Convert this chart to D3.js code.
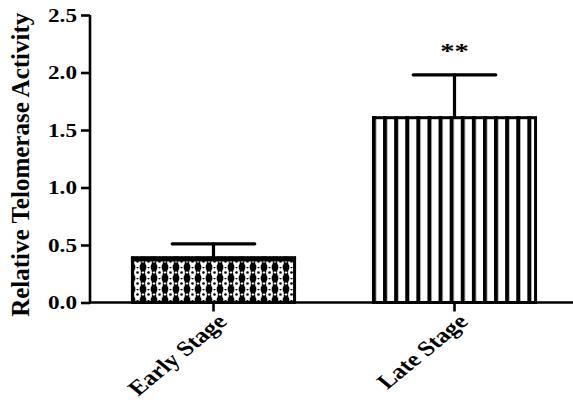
<!DOCTYPE html>
<html>
<head>
<meta charset="utf-8">
<script src="https://cdn.jsdelivr.net/npm/d3@7"></script>
<style>
  html, body { margin: 0; padding: 0; background: #fff; }
  svg { display: block; }
  text { font-family: "Liberation Serif", "Times New Roman", serif; font-weight: bold; fill: #000; }
</style>
</head>
<body>
<svg id="chart" width="573" height="403"></svg>
<script>
// Telomerase activity by tumour stage (mean and upper error)
const categories = ["Early Stage", "Late Stage"];
const means = [0.40, 1.62];
const errors = [0.11, 0.36];
const significance = ["", "**"];
const yTicks = [0.0, 0.5, 1.0, 1.5, 2.0, 2.5];
const yLabel = "Relative Telomerase Activity";

const svg = d3.select("#chart");
const W = 573, H = 403;
const axisX = 90, axisY = 302.5, topY = 15;
const wide = 1.22; // horizontal widening of the label glyphs

const x = d3.scaleBand()
  .domain(categories)
  .range([93, 575])
  .paddingInner(0.315)
  .paddingOuter(0.1575);

const y = d3.scaleLinear().domain([0, 2.5]).range([axisY, topY]);

// Fill patterns for the two bars
const defs = svg.append("defs");

// Dotted lattice for the first bar
const p1 = defs.append("pattern")
  .attr("id", "lattice")
  .attr("patternUnits", "userSpaceOnUse")
  .attr("width", 11).attr("height", 11)
  .attr("x", 0).attr("y", 3);
p1.append("rect").attr("width", 11).attr("height", 11).attr("fill", "#000");
p1.append("ellipse").attr("cx", 5.5).attr("cy", 5.5).attr("rx", 3.4).attr("ry", 4.6).attr("fill", "#fff");
p1.append("rect").attr("x", 3.3).attr("y", 0).attr("width", 4.4).attr("height", 11).attr("fill", "#fff");
p1.append("circle").attr("cx", 5.5).attr("cy", 5.5).attr("r", 1.3).attr("fill", "#000");
p1.append("circle").attr("cx", 5.5).attr("cy", 0.3).attr("r", 1.1).attr("fill", "#000");
p1.append("circle").attr("cx", 0.3).attr("cy", 5.5).attr("r", 1.1).attr("fill", "#fff");
p1.append("circle").attr("cx", 10.7).attr("cy", 5.5).attr("r", 1.1).attr("fill", "#fff");

// Vertical stripes for the second bar
const p2 = defs.append("pattern")
  .attr("id", "stripes")
  .attr("patternUnits", "userSpaceOnUse")
  .attr("width", 11.1).attr("height", 10)
  .attr("x", x("Late Stage")).attr("y", 0);
p2.append("rect").attr("width", 11.1).attr("height", 10).attr("fill", "#fff");
p2.append("rect").attr("x", 0).attr("width", 4).attr("height", 10).attr("fill", "#000");

const patterns = ["url(#lattice)", "url(#stripes)"];

// Bars
const bars = svg.append("g");
categories.forEach((c, i) => {
  const bx = x(c), bw = x.bandwidth();
  const top = y(means[i]);
  bars.append("rect")
    .attr("x", bx).attr("y", top)
    .attr("width", bw).attr("height", axisY - top)
    .attr("fill", patterns[i]);
  // outline
  bars.append("rect")
    .attr("x", bx + 1.5).attr("y", top + 1.5)
    .attr("width", bw - 3).attr("height", axisY - top - 1.5)
    .attr("fill", "none").attr("stroke", "#000").attr("stroke-width", 3);
  if (i === 0) {
    // thicker top band on the lattice bar
    bars.append("rect")
      .attr("x", bx).attr("y", top)
      .attr("width", bw).attr("height", 5)
      .attr("fill", "#000");
  }
});

// Error bars (upper only)
const eg = svg.append("g").attr("stroke", "#000").attr("stroke-width", 3.2).attr("stroke-linecap", "round");
categories.forEach((c, i) => {
  const cx = x(c) + x.bandwidth() / 2;
  const capHalf = x.bandwidth() / 4;
  eg.append("line").attr("x1", cx).attr("x2", cx)
    .attr("y1", y(means[i])).attr("y2", y(means[i] + errors[i]));
  eg.append("line").attr("x1", cx - capHalf).attr("x2", cx + capHalf)
    .attr("y1", y(means[i] + errors[i])).attr("y2", y(means[i] + errors[i]));
});

// Significance markers
categories.forEach((c, i) => {
  if (!significance[i]) return;
  svg.append("text")
    .attr("transform", `translate(${x(c) + x.bandwidth() / 2},${y(means[i] + errors[i]) - 17}) scale(1.3,1)`)
    .attr("text-anchor", "middle")
    .style("font-size", "22px")
    .text(significance[i]);
});

// Y axis
const yAxis = svg.append("g").attr("transform", `translate(${axisX},0)`)
  .call(d3.axisLeft(y).tickValues(yTicks).tickFormat(d3.format(".1f")).tickSizeOuter(0).tickSize(9).tickPadding(3));
yAxis.select(".domain").attr("stroke-width", 2.6).attr("d", `M0,${topY}V${axisY + 1}`);
yAxis.selectAll(".tick line").attr("stroke-width", 2.6);
yAxis.selectAll(".tick text")
  .attr("x", 0)
  .attr("transform", `translate(-13,0) scale(${wide},1)`)
  .attr("dy", "0.34em")
  .style("font-size", "19px")
  .style("font-family", "'Liberation Serif', serif").style("font-weight", "bold");

// X axis
const xAxis = svg.append("g").attr("transform", `translate(0,${axisY})`)
  .call(d3.axisBottom(x).tickSize(9).tickSizeOuter(0).tickFormat(""));
xAxis.select(".domain").attr("stroke-width", 2.6).attr("d", `M${axisX - 1},0H${W}`);
xAxis.selectAll(".tick line").attr("stroke-width", 2.6);

// Rotated category labels
categories.forEach(c => {
  const cx = x(c) + x.bandwidth() / 2;
  svg.append("text")
    .attr("transform", `translate(${cx + 2},${axisY + 10}) scale(${wide},1) rotate(-45)`)
    .attr("text-anchor", "end")
    .attr("dy", "0.7em")
    .style("font-size", "21px")
    .text(c);
});

// Y axis title
svg.append("text")
  .attr("transform", `translate(29,${(topY + axisY) / 2 + 6}) rotate(-90)`)
  .attr("text-anchor", "middle")
  .style("font-size", "25px")
  .text(yLabel);
</script>
</body>
</html>
